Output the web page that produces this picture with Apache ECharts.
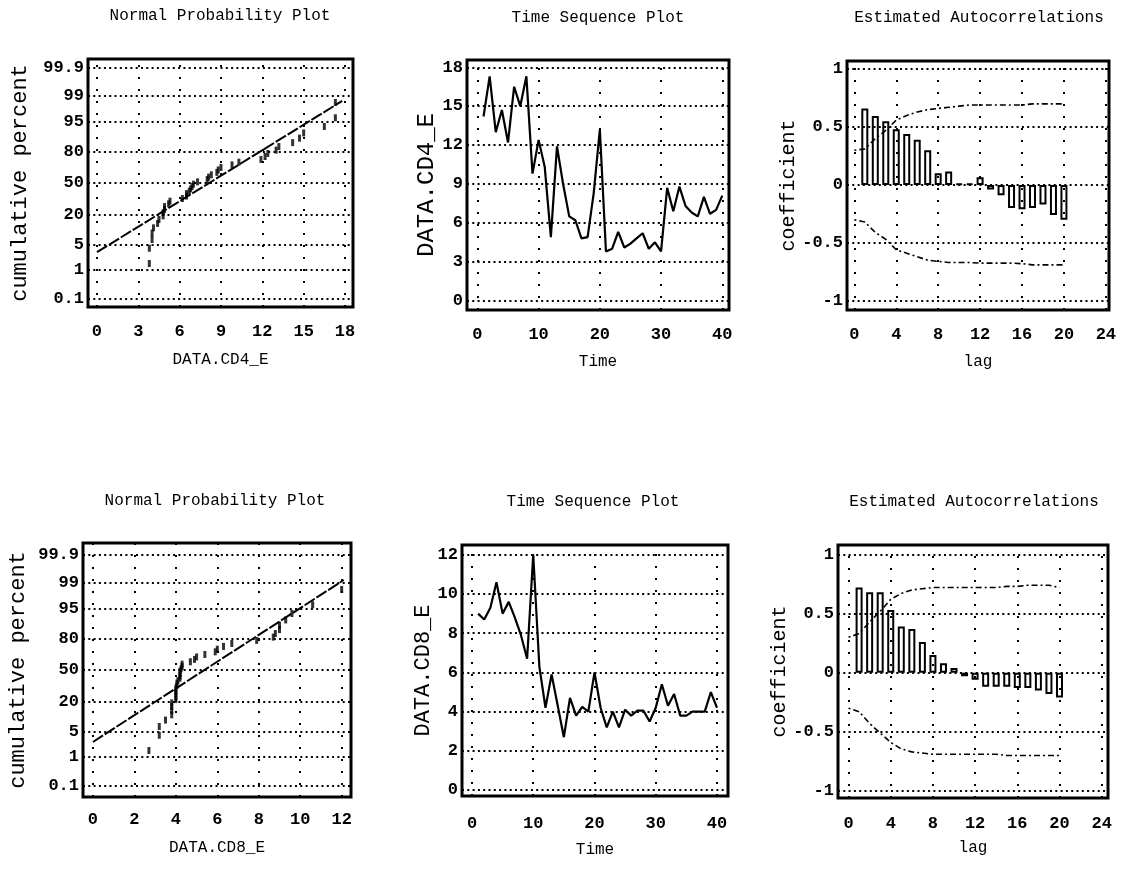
<!DOCTYPE html>
<html><head><meta charset="utf-8">
<script src="https://cdn.jsdelivr.net/npm/echarts@6/dist/echarts.min.js"></script>
<style>html,body{margin:0;padding:0;background:#fff}#c{width:1124px;height:871px}</style>
</head><body><div id="c"></div><script>
// ---------------- data ----------------
const time = [1,2,3,4,5,6,7,8,9,10,11,12,13,14,15,16,17,18,19,20,21,22,23,24,25,26,27,28,29,30,31,32,33,34,35,36,37,38,39,40];
const cd4 = [14.2,17.3,13.0,14.7,12.2,16.5,15.0,17.3,9.8,12.4,
             10.3,4.9,11.9,9.0,6.5,6.2,4.8,4.9,8.3,13.2,
             3.8,4.0,5.3,4.1,4.4,4.8,5.2,4.0,4.5,3.8,
             8.7,6.9,8.8,7.3,6.8,6.5,8.0,6.7,7.0,8.1];
const cd8 = [9.0,8.7,9.3,10.6,9.0,9.6,8.8,7.9,6.7,12.0,
             6.3,4.2,5.9,4.3,2.7,4.7,3.8,4.25,4.0,6.0,
             4.2,3.2,4.0,3.2,4.1,3.8,4.05,4.05,3.5,4.2,
             5.4,4.3,4.9,3.8,3.8,4.0,4.0,4.0,5.0,4.2];
const lags = [1,2,3,4,5,6,7,8,9,10,11,12,13,14,15,16,17,18,19,20];
const acfCd4 = [0.66,0.595,0.55,0.48,0.44,0.39,0.30,0.10,0.115,0.01,0.01,0.066,-0.04,-0.09,-0.20,-0.21,-0.20,-0.17,-0.26,-0.30];
const acfCd8 = [0.72,0.68,0.68,0.53,0.39,0.37,0.26,0.15,0.08,0.04,-0.03,-0.06,-0.12,-0.12,-0.12,-0.13,-0.13,-0.15,-0.18,-0.21];
const bandLags = [0,1,2,3,4,5,6,7,8,9,10,11,12,13,14,15,16,17,18,19,20];
const cd4BandUpper = [0.30,0.31,0.40,0.47,0.56,0.60,0.63,0.65,0.66,0.67,0.68,0.69,0.69,0.69,0.69,0.69,0.69,0.70,0.70,0.70,0.70];
const cd4BandLower = [-0.30,-0.32,-0.41,-0.47,-0.56,-0.59,-0.62,-0.65,-0.66,-0.67,-0.67,-0.67,-0.675,-0.675,-0.675,-0.675,-0.68,-0.69,-0.69,-0.69,-0.69];
const cd8BandUpper = [0.30,0.33,0.43,0.52,0.62,0.67,0.70,0.71,0.72,0.72,0.72,0.72,0.72,0.72,0.72,0.73,0.73,0.74,0.74,0.74,0.72];
const cd8BandLower = [-0.30,-0.33,-0.43,-0.51,-0.59,-0.645,-0.67,-0.68,-0.69,-0.69,-0.69,-0.69,-0.69,-0.69,-0.69,-0.70,-0.70,-0.70,-0.70,-0.70,-0.70];
// fitted reference lines of the probability plots: x and cumulative percent at both ends
const cd4FitX = [0, 17.8];
const cd4FitPct = [3.2, 98.6];
const cd8FitX = [0, 12.1];
const cd8FitPct = [2.7, 99.2];
// tick labels
const probTicks = [0.1, 1, 5, 20, 50, 80, 95, 99, 99.9];
const cd4ProbTicksX = [0, 3, 6, 9, 12, 15, 18];
const cd8ProbTicksX = [0, 2, 4, 6, 8, 10, 12];
const timeTicksX = [0, 10, 20, 30, 40];
const cd4TimeTicksY = [0, 3, 6, 9, 12, 15, 18];
const cd8TimeTicksY = [0, 2, 4, 6, 8, 10, 12];
const acfTicksX = [0, 4, 8, 12, 16, 20, 24];
const acfTicksY = [-1, -0.5, 0, 0.5, 1];

// ---------------- helpers ----------------
function probit(p) {
  const a=[-3.969683028665376e+01,2.209460984245205e+02,-2.759285104469687e+02,1.383577518672690e+02,-3.066479806614716e+01,2.506628277459239e+00];
  const b=[-5.447609879822406e+01,1.615858368580409e+02,-1.556989798598866e+02,6.680131188771972e+01,-1.328068155288572e+01];
  const c=[-7.784894002430293e-03,-3.223964580411365e-01,-2.400758277161838e+00,-2.549732539343734e+00,4.374664141464968e+00,2.938163982698783e+00];
  const d=[7.784695709041462e-03,3.224671290700398e-01,2.445134137142996e+00,3.754408661907416e+00];
  const pl=0.02425, ph=1-pl; let q, r;
  if (p < pl) { q=Math.sqrt(-2*Math.log(p)); return (((((c[0]*q+c[1])*q+c[2])*q+c[3])*q+c[4])*q+c[5])/((((d[0]*q+d[1])*q+d[2])*q+d[3])*q+1); }
  if (p > ph) { q=Math.sqrt(-2*Math.log(1-p)); return -(((((c[0]*q+c[1])*q+c[2])*q+c[3])*q+c[4])*q+c[5])/((((d[0]*q+d[1])*q+d[2])*q+d[3])*q+1); }
  q=p-0.5; r=q*q; return (((((a[0]*r+a[1])*r+a[2])*r+a[3])*r+a[4])*r+a[5])*q/(((((b[0]*r+b[1])*r+b[2])*r+b[3])*r+b[4])*r+1);
}
const probZ = probTicks.map(p => probit(p / 100));
function probLabel(v) {
  let best = 0;
  probZ.forEach((z, i) => { if (Math.abs(z - v) < Math.abs(probZ[best] - v)) best = i; });
  return String(probTicks[best]);
}
// normal probability plot points (Blom plotting positions of the sorted observations)
function probPoints(vals) {
  const s = vals.slice().sort((x, y) => x - y), n = s.length;
  return s.map((v, i) => [v, probit((i + 1 - 0.375) / (n + 0.25))]);
}

const FONT = "'Liberation Mono', 'DejaVu Sans Mono', monospace";
const txt = (size, extra) => Object.assign({fontFamily: FONT, fontSize: size, color: '#000', fontWeight: 'normal'}, extra || {});

function gridMarks(xs, ys) {
  return {
    silent: true, symbol: 'none', z: 1, animation: false,
    label: {show: false}, emphasis: {disabled: true},
    lineStyle: {color: '#000', width: 2, opacity: 1},
    data: xs.map(v => ({xAxis: v, lineStyle: {type: [2, 10], width: 2, color: '#000'}}))
      .concat(ys.map(v => ({yAxis: v, lineStyle: {type: [2, 3.3], width: 2, color: '#000'}})))
  };
}
function xAx(gi, min, max, ticks, name, gap, margin) {
  return {type: 'value', gridIndex: gi, min, max,
    axisLine: {show: false}, axisTick: {show: false}, splitLine: {show: false},
    axisLabel: Object.assign({customValues: ticks, margin}, txt(17, {fontWeight: 'bold'})),
    name, nameLocation: 'middle', nameGap: gap, nameTextStyle: txt(16)};
}
function yAx(gi, min, max, ticks, name, gap, nameSize, fmt) {
  const lbl = Object.assign({customValues: ticks, margin: 4}, txt(17, {fontWeight: 'bold'}));
  if (fmt) lbl.formatter = fmt;
  return {type: 'value', gridIndex: gi, min, max,
    axisLine: {show: false}, axisTick: {show: false}, splitLine: {show: false},
    axisLabel: lbl,
    name, nameLocation: 'middle', nameGap: gap, nameTextStyle: txt(nameSize)};
}
const gridBox = (left, top, width, height) => ({left, top, width, height, show: true, borderColor: '#000', borderWidth: 3, backgroundColor: 'rgba(0,0,0,0)', containLabel: false});
const ttl = (text, cx, cy) => ({text, left: cx, top: cy - 10, textAlign: 'center', padding: 0, textStyle: txt(16)});

const fitLine = (xs, pcts) => xs.map((x, i) => [x, probit(pcts[i] / 100)]);
const barStyle = {color: 'rgba(255,255,255,0)', borderColor: '#000', borderWidth: 2};
const bandStyle = {color: '#000', width: 1.6, type: [2, 3, 6, 3]};

const option = {
  animation: false,
  backgroundColor: '#fff',
  title: [
    ttl('Normal Probability Plot', 220, 18),
    ttl('Time Sequence Plot', 598, 20),
    ttl('Estimated Autocorrelations', 979, 20),
    ttl('Normal Probability Plot', 215, 503),
    ttl('Time Sequence Plot', 593, 504),
    ttl('Estimated Autocorrelations', 974, 504)
  ],
  grid: [
    gridBox(88, 59, 265, 248),
    gridBox(467, 60, 262, 250),
    gridBox(847, 61, 262, 249),
    gridBox(83, 543, 268, 254),
    gridBox(462, 545, 266, 251),
    gridBox(838, 545, 270, 253)
  ],
  xAxis: [
    xAx(0, -0.65, 18.58, cd4ProbTicksX, 'DATA.CD4_E', 45, 16),
    xAx(1, -1.7, 41.1, timeTicksX, 'Time', 44, 16),
    xAx(2, -0.7, 24.3, acfTicksX, 'lag', 44, 16),
    xAx(3, -0.48, 12.45, cd8ProbTicksX, 'DATA.CD8_E', 43, 14),
    xAx(4, -1.63, 41.8, timeTicksX, 'Time', 46, 19),
    xAx(5, -1.0, 24.6, acfTicksX, 'lag', 42, 17)
  ],
  yAxis: [
    yAx(0, -3.32, 3.32, probZ, 'cumulative percent', 57, 22, probLabel),
    yAx(1, -0.72, 18.56, cd4TimeTicksY, 'DATA.CD4_E', 14, 24),
    yAx(2, -1.08, 1.07, acfTicksY, 'coefficient', 26, 20),
    yAx(3, -3.4, 3.4, probZ, 'cumulative percent', 54, 22, probLabel),
    yAx(4, -0.3, 12.5, cd8TimeTicksY, 'DATA.CD8_E', 11, 22),
    yAx(5, -1.06, 1.08, acfTicksY, 'coefficient', 30, 20)
  ],
  series: [
    {type: 'scatter', xAxisIndex: 0, yAxisIndex: 0, data: probPoints(cd4), symbol: 'rect', symbolSize: [3, 7], itemStyle: {color: '#000'}, z: 3, markLine: gridMarks(cd4ProbTicksX, probZ)},
    {type: 'line', xAxisIndex: 0, yAxisIndex: 0, data: fitLine(cd4FitX, cd4FitPct), symbol: 'none', lineStyle: {color: '#000', width: 2, type: [12, 2]}},
    {type: 'line', xAxisIndex: 1, yAxisIndex: 1, data: time.map((t, i) => [t, cd4[i]]), symbol: 'none', lineStyle: {color: '#000', width: 2.2}, markLine: gridMarks(timeTicksX, cd4TimeTicksY)},
    {type: 'bar', xAxisIndex: 2, yAxisIndex: 2, data: lags.map((l, i) => [l, acfCd4[i]]), barWidth: 7, itemStyle: barStyle, markLine: gridMarks(acfTicksX, acfTicksY)},
    {type: 'line', xAxisIndex: 2, yAxisIndex: 2, data: bandLags.map((l, i) => [l, cd4BandUpper[i]]), symbol: 'none', lineStyle: bandStyle},
    {type: 'line', xAxisIndex: 2, yAxisIndex: 2, data: bandLags.map((l, i) => [l, cd4BandLower[i]]), symbol: 'none', lineStyle: bandStyle},
    {type: 'scatter', xAxisIndex: 3, yAxisIndex: 3, data: probPoints(cd8), symbol: 'rect', symbolSize: [3, 7], itemStyle: {color: '#000'}, z: 3, markLine: gridMarks(cd8ProbTicksX, probZ)},
    {type: 'line', xAxisIndex: 3, yAxisIndex: 3, data: fitLine(cd8FitX, cd8FitPct), symbol: 'none', lineStyle: {color: '#000', width: 2, type: [12, 2]}},
    {type: 'line', xAxisIndex: 4, yAxisIndex: 4, data: time.map((t, i) => [t, cd8[i]]), symbol: 'none', lineStyle: {color: '#000', width: 2.2}, markLine: gridMarks(timeTicksX, cd8TimeTicksY)},
    {type: 'bar', xAxisIndex: 5, yAxisIndex: 5, data: lags.map((l, i) => [l, acfCd8[i]]), barWidth: 7, itemStyle: barStyle, markLine: gridMarks(acfTicksX, acfTicksY)},
    {type: 'line', xAxisIndex: 5, yAxisIndex: 5, data: bandLags.map((l, i) => [l, cd8BandUpper[i]]), symbol: 'none', lineStyle: bandStyle},
    {type: 'line', xAxisIndex: 5, yAxisIndex: 5, data: bandLags.map((l, i) => [l, cd8BandLower[i]]), symbol: 'none', lineStyle: bandStyle}
  ]
};
const chart = echarts.init(document.getElementById('c'), null, {renderer: 'canvas'});
chart.setOption(option);
</script></body></html>
